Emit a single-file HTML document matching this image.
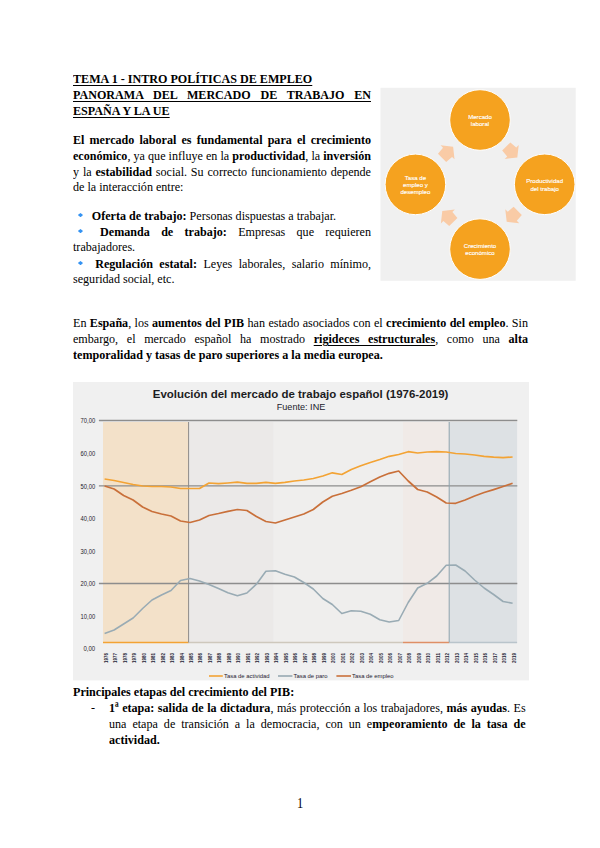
<!DOCTYPE html>
<html lang="es">
<head>
<meta charset="utf-8">
<title>Tema 1 - Intro Políticas de Empleo</title>
<style>
html,body{margin:0;padding:0;background:#fff;}
body{width:600px;height:848px;position:relative;overflow:hidden;font-family:"Liberation Serif",serif;color:#000;}
.l{position:absolute;left:72.5px;font-size:13.5px;line-height:16px;white-space:nowrap;transform:scaleX(0.896);transform-origin:0 0;}
.j{text-align:justify;text-align-last:justify;white-space:nowrap;}
b{font-weight:bold;}
u{text-decoration:underline;text-decoration-thickness:1px;text-underline-offset:2px;}
.dia{display:inline-block;width:6.03px;height:4.4px;background:#3593f2;clip-path:polygon(50% 0,100% 50%,50% 100%,0 50%);margin-left:5.36px;margin-right:6.25px;vertical-align:2.2px;}
.dash{position:absolute;left:90.5px;}
.sans{font-family:"Liberation Sans",sans-serif;}
</style>
</head>
<body>
<!-- Heading -->
<div class="l" style="top:71.4px;width:332.59px;"><b><u>TEMA 1 - INTRO POLÍTICAS DE EMPLEO</u></b></div>
<div class="l j" style="top:87.4px;width:332.59px;"><b><u>PANORAMA DEL MERCADO DE TRABAJO EN</u></b></div>
<div class="l" style="top:103.4px;width:332.59px;"><b><u>ESPAÑA Y LA UE</u></b></div>

<!-- Paragraph 1 -->
<div class="l j" style="top:131.5px;width:332.59px;"><b>El mercado laboral es fundamental para el crecimiento</b></div>
<div class="l j" style="top:147.5px;width:332.59px;"><b>económico</b>, ya que influye en la <b>productividad</b>, la <b>inversión</b></div>
<div class="l j" style="top:163.5px;width:332.59px;">y la <b>estabilidad</b> social. Su correcto funcionamiento depende</div>
<div class="l" style="top:178.5px;">de la interacción entre:</div>

<!-- Bullets -->
<div class="l" style="top:207.5px;"><span class="dia"></span> <b>Oferta de trabajo:</b> Personas dispuestas a trabajar.</div>
<div class="l j" style="top:223.5px;width:332.59px;"><span class="dia"></span> <b>Demanda de trabajo:</b> Empresas que requieren</div>
<div class="l" style="top:238.5px;">trabajadores.</div>
<div class="l j" style="top:255.5px;width:332.59px;"><span class="dia"></span> <b>Regulación estatal:</b> Leyes laborales, salario mínimo,</div>
<div class="l" style="top:270.5px;">seguridad social, etc.</div>

<!-- Cycle diagram -->
<svg style="position:absolute;left:0;top:0" width="600" height="848" viewBox="0 0 600 848">
  <rect x="380.5" y="87.8" width="195.2" height="193" fill="#f0f0f0"/>
  <g fill="#f9cba6">
    <polygon transform="translate(511.8,152) rotate(45)" points="-7.8,-5.8 -0.1,-6.4 -0.1,-9.9 7.8,0 -0.1,9.9 -0.1,6.4 -7.8,5.8"/>
    <polygon transform="translate(512.2,216.3) rotate(135)" points="-7.8,-5.8 -0.1,-6.4 -0.1,-9.9 7.8,0 -0.1,9.9 -0.1,6.4 -7.8,5.8"/>
    <polygon transform="translate(447.8,216.5) rotate(225)" points="-7.8,-5.8 -0.1,-6.4 -0.1,-9.9 7.8,0 -0.1,9.9 -0.1,6.4 -7.8,5.8"/>
    <polygon transform="translate(447.6,152.3) rotate(315)" points="-7.8,-5.8 -0.1,-6.4 -0.1,-9.9 7.8,0 -0.1,9.9 -0.1,6.4 -7.8,5.8"/>
  </g>
  <g fill="#f5a21f" stroke="#ffffff" stroke-width="1">
    <circle cx="480" cy="120" r="30.3"/>
    <circle cx="544.7" cy="184.3" r="30.3"/>
    <circle cx="480" cy="249.1" r="30.3"/>
    <circle cx="415.4" cy="184.4" r="30.3"/>
  </g>
  <g font-family="Liberation Sans" font-size="6.1" fill="#ffffff" stroke="#ffffff" stroke-width="0.14" text-anchor="middle">
    <text x="480" y="118.7">Mercado</text>
    <text x="480" y="126">laboral</text>
    <text x="544.7" y="183">Productividad</text>
    <text x="544.7" y="190.6">del trabajo</text>
    <text x="415.4" y="179.8">Tasa de</text>
    <text x="415.4" y="187.1">empleo y</text>
    <text x="415.4" y="194.2">desempleo</text>
    <text x="480" y="248">Crecimiento</text>
    <text x="480" y="255.4">económico</text>
  </g>
</svg>

<!-- Paragraph 2 -->
<div class="l j" style="top:315px;width:507.81px;">En <b>España</b>, los <b>aumentos del PIB</b> han estado asociados con el <b>crecimiento del empleo</b>. Sin</div>
<div class="l j" style="top:331px;width:507.81px;">embargo, el mercado español ha mostrado <b><u>rigideces estructurales</u></b>, como una <b>alta</b></div>
<div class="l" style="top:347px;"><b>temporalidad y tasas de paro superiores a la media europea.</b></div>

<!-- Chart -->
<svg style="position:absolute;left:0;top:0" width="600" height="848" viewBox="0 0 600 848">
  <rect x="73" y="382" width="456" height="298.4" fill="#f0f0f0"/>
  <rect x="103" y="422" width="85.6" height="220.5" fill="#f3e1c9"/>
  <rect x="188.6" y="422" width="85.1" height="220.5" fill="#ebe9e8"/>
  <rect x="273.7" y="422" width="129.3" height="220.5" fill="#efeeed"/>
  <rect x="403" y="422" width="46.2" height="220.5" fill="#f0eae7"/>
  <rect x="449.2" y="422" width="67.9" height="220.5" fill="#dde1e4"/>
  <g stroke-width="1.5">
    <line x1="103" y1="642.6" x2="188.6" y2="642.6" stroke="#f3a334"/>
    <line x1="188.6" y1="642.6" x2="403" y2="642.6" stroke="#cec8bd"/>
    <line x1="403" y1="642.6" x2="449.2" y2="642.6" stroke="#df8f66"/>
    <line x1="449.2" y1="642.6" x2="517.1" y2="642.6" stroke="#b9c4cb"/>
  </g>
  <g stroke="#8d8d8d" stroke-width="1.3">
    <line x1="98.9" y1="420.5" x2="517.3" y2="420.5"/>
    <line x1="98.9" y1="485.8" x2="517.3" y2="485.8"/>
    <line x1="98.9" y1="583.5" x2="517.3" y2="583.5"/>
  </g>
  <line x1="188.6" y1="422" x2="188.6" y2="642.5" stroke="#8e8b88" stroke-width="1"/>
  <line x1="449.2" y1="422" x2="449.2" y2="642.5" stroke="#8fa2ad" stroke-width="1"/>
  <polyline points="104.6,633.5 114.1,630 123.6,624 133.1,618 142.6,608.5 152.0,600 161.5,595 171.0,590.5 180.5,580.5 190.0,578.5 199.5,581 209.0,584.5 218.5,588.5 227.9,592.8 237.4,595.8 246.9,593 256.4,584.2 265.9,571.2 275.4,570.8 284.9,574.2 294.4,577 303.8,582.5 313.3,589 322.8,598.5 332.3,604.5 341.8,613.5 351.3,610.8 360.8,611.3 370.3,614.3 379.8,619.7 389.2,622 398.7,620.5 408.2,602.5 417.7,588 427.2,583.3 436.7,576 446.2,565.3 455.7,565 465.1,571 474.6,580 484.1,588 493.6,594.5 503.1,601.5 512.6,603.3" fill="none" stroke="#99abb4" stroke-width="1.6" stroke-linejoin="round"/>
<polyline points="104.6,486 114.1,489 123.6,495.5 133.1,500 142.6,507 152.0,511.5 161.5,514 171.0,516 180.5,521 190.0,522.5 199.5,520 209.0,515.5 218.5,513.5 227.9,511.3 237.4,509.5 246.9,510.5 256.4,516.5 265.9,521.5 275.4,523 284.9,520 294.4,517 303.8,514 313.3,509.5 322.8,502 332.3,496.3 341.8,493.5 351.3,490.3 360.8,486.7 370.3,481.7 379.8,477 389.2,473.3 398.7,471 408.2,481 417.7,489.5 427.2,492 436.7,497 446.2,503 455.7,503.3 465.1,500 474.6,496 484.1,492.5 493.6,489.6 503.1,486.5 512.6,483.2" fill="none" stroke="#c9703a" stroke-width="1.7" stroke-linejoin="round"/>
<polyline points="104.6,479 114.1,480.5 123.6,482.5 133.1,484.5 142.6,486 152.0,486.5 161.5,486.5 171.0,487 180.5,488.5 190.0,488.5 199.5,488.5 209.0,483 218.5,483.7 227.9,483 237.4,482.2 246.9,483.3 256.4,483.3 265.9,482.3 275.4,483.3 284.9,482.3 294.4,481 303.8,480 313.3,478.5 322.8,476 332.3,472.8 341.8,474.5 351.3,469.5 360.8,465.8 370.3,462.5 379.8,459.5 389.2,456.3 398.7,454.5 408.2,451.7 417.7,453 427.2,452 436.7,451.7 446.2,452 455.7,453.5 465.1,454 474.6,455 484.1,456.3 493.6,457.2 503.1,457.7 512.6,457" fill="none" stroke="#f3a334" stroke-width="1.7" stroke-linejoin="round"/>
<g font-family="Liberation Sans" font-size="5.2" font-weight="bold" fill="#1e2233"><text transform="translate(107.5,663) rotate(-90)" textLength="10" lengthAdjust="spacingAndGlyphs">1976</text><text transform="translate(117.0,663) rotate(-90)" textLength="10" lengthAdjust="spacingAndGlyphs">1977</text><text transform="translate(126.5,663) rotate(-90)" textLength="10" lengthAdjust="spacingAndGlyphs">1978</text><text transform="translate(136.0,663) rotate(-90)" textLength="10" lengthAdjust="spacingAndGlyphs">1979</text><text transform="translate(145.5,663) rotate(-90)" textLength="10" lengthAdjust="spacingAndGlyphs">1980</text><text transform="translate(155.0,663) rotate(-90)" textLength="10" lengthAdjust="spacingAndGlyphs">1981</text><text transform="translate(164.5,663) rotate(-90)" textLength="10" lengthAdjust="spacingAndGlyphs">1982</text><text transform="translate(174.0,663) rotate(-90)" textLength="10" lengthAdjust="spacingAndGlyphs">1983</text><text transform="translate(183.5,663) rotate(-90)" textLength="10" lengthAdjust="spacingAndGlyphs">1984</text><text transform="translate(192.9,663) rotate(-90)" textLength="10" lengthAdjust="spacingAndGlyphs">1985</text><text transform="translate(202.4,663) rotate(-90)" textLength="10" lengthAdjust="spacingAndGlyphs">1986</text><text transform="translate(211.9,663) rotate(-90)" textLength="10" lengthAdjust="spacingAndGlyphs">1987</text><text transform="translate(221.4,663) rotate(-90)" textLength="10" lengthAdjust="spacingAndGlyphs">1988</text><text transform="translate(230.9,663) rotate(-90)" textLength="10" lengthAdjust="spacingAndGlyphs">1989</text><text transform="translate(240.4,663) rotate(-90)" textLength="10" lengthAdjust="spacingAndGlyphs">1990</text><text transform="translate(249.9,663) rotate(-90)" textLength="10" lengthAdjust="spacingAndGlyphs">1991</text><text transform="translate(259.4,663) rotate(-90)" textLength="10" lengthAdjust="spacingAndGlyphs">1992</text><text transform="translate(268.8,663) rotate(-90)" textLength="10" lengthAdjust="spacingAndGlyphs">1993</text><text transform="translate(278.3,663) rotate(-90)" textLength="10" lengthAdjust="spacingAndGlyphs">1994</text><text transform="translate(287.8,663) rotate(-90)" textLength="10" lengthAdjust="spacingAndGlyphs">1995</text><text transform="translate(297.3,663) rotate(-90)" textLength="10" lengthAdjust="spacingAndGlyphs">1996</text><text transform="translate(306.8,663) rotate(-90)" textLength="10" lengthAdjust="spacingAndGlyphs">1997</text><text transform="translate(316.3,663) rotate(-90)" textLength="10" lengthAdjust="spacingAndGlyphs">1998</text><text transform="translate(325.8,663) rotate(-90)" textLength="10" lengthAdjust="spacingAndGlyphs">1999</text><text transform="translate(335.3,663) rotate(-90)" textLength="10" lengthAdjust="spacingAndGlyphs">2000</text><text transform="translate(344.7,663) rotate(-90)" textLength="10" lengthAdjust="spacingAndGlyphs">2001</text><text transform="translate(354.2,663) rotate(-90)" textLength="10" lengthAdjust="spacingAndGlyphs">2002</text><text transform="translate(363.7,663) rotate(-90)" textLength="10" lengthAdjust="spacingAndGlyphs">2003</text><text transform="translate(373.2,663) rotate(-90)" textLength="10" lengthAdjust="spacingAndGlyphs">2004</text><text transform="translate(382.7,663) rotate(-90)" textLength="10" lengthAdjust="spacingAndGlyphs">2005</text><text transform="translate(392.2,663) rotate(-90)" textLength="10" lengthAdjust="spacingAndGlyphs">2006</text><text transform="translate(401.7,663) rotate(-90)" textLength="10" lengthAdjust="spacingAndGlyphs">2007</text><text transform="translate(411.2,663) rotate(-90)" textLength="10" lengthAdjust="spacingAndGlyphs">2008</text><text transform="translate(420.7,663) rotate(-90)" textLength="10" lengthAdjust="spacingAndGlyphs">2009</text><text transform="translate(430.1,663) rotate(-90)" textLength="10" lengthAdjust="spacingAndGlyphs">2010</text><text transform="translate(439.6,663) rotate(-90)" textLength="10" lengthAdjust="spacingAndGlyphs">2011</text><text transform="translate(449.1,663) rotate(-90)" textLength="10" lengthAdjust="spacingAndGlyphs">2012</text><text transform="translate(458.6,663) rotate(-90)" textLength="10" lengthAdjust="spacingAndGlyphs">2013</text><text transform="translate(468.1,663) rotate(-90)" textLength="10" lengthAdjust="spacingAndGlyphs">2014</text><text transform="translate(477.6,663) rotate(-90)" textLength="10" lengthAdjust="spacingAndGlyphs">2015</text><text transform="translate(487.1,663) rotate(-90)" textLength="10" lengthAdjust="spacingAndGlyphs">2016</text><text transform="translate(496.6,663) rotate(-90)" textLength="10" lengthAdjust="spacingAndGlyphs">2017</text><text transform="translate(506.0,663) rotate(-90)" textLength="10" lengthAdjust="spacingAndGlyphs">2018</text><text transform="translate(515.5,663) rotate(-90)" textLength="10" lengthAdjust="spacingAndGlyphs">2019</text></g>
  <g font-family="Liberation Sans" font-size="7" fill="#26222c" text-anchor="end" lengthAdjust="spacingAndGlyphs">
    <text x="95.2" y="422.8" textLength="14.6" lengthAdjust="spacingAndGlyphs">70,00</text>
    <text x="95.2" y="455.9" textLength="14.6" lengthAdjust="spacingAndGlyphs">60,00</text>
    <text x="95.2" y="488.5" textLength="14.6" lengthAdjust="spacingAndGlyphs">50,00</text>
    <text x="95.2" y="521.2" textLength="14.6" lengthAdjust="spacingAndGlyphs">40,00</text>
    <text x="95.2" y="553.7" textLength="14.6" lengthAdjust="spacingAndGlyphs">30,00</text>
    <text x="95.2" y="585.9" textLength="14.6" lengthAdjust="spacingAndGlyphs">20,00</text>
    <text x="95.2" y="618.8" textLength="14.6" lengthAdjust="spacingAndGlyphs">10,00</text>
    <text x="95.2" y="651.4" textLength="11.7" lengthAdjust="spacingAndGlyphs">0,00</text>
  </g>
  <text x="300.6" y="397.5" font-family="Liberation Sans" font-weight="bold" font-size="10.6" fill="#1c1c22" text-anchor="middle" textLength="295.7" lengthAdjust="spacingAndGlyphs">Evolución del mercado de trabajo español (1976-2019)</text>
  <text x="301" y="410" font-family="Liberation Sans" font-size="9" fill="#22222c" text-anchor="middle" textLength="48.6" lengthAdjust="spacingAndGlyphs">Fuente: INE</text>
  <g stroke-width="1.6">
    <line x1="209" y1="676" x2="222.8" y2="676" stroke="#f3a334"/>
    <line x1="278" y1="676" x2="292.4" y2="676" stroke="#97a9b2"/>
    <line x1="336.4" y1="676" x2="351" y2="676" stroke="#c9703a"/>
  </g>
  <g font-family="Liberation Sans" font-size="5.9" fill="#1e2030">
    <text x="224" y="678">Tasa de actividad</text>
    <text x="293.5" y="678">Tasa de paro</text>
    <text x="352" y="678">Tasa de empleo</text>
  </g>
</svg>

<!-- Principales etapas -->
<div class="l" style="top:684.4px;"><b>Principales etapas del crecimiento del PIB:</b></div>
<div class="l" style="top:700.4px;left:90.5px;">-</div>
<div class="l j" style="top:700.4px;left:109.4px;width:464.96px;"><b>1ª etapa: salida de la dictadura</b>, más protección a los trabajadores, <b>más ayudas</b>. Es</div>
<div class="l j" style="top:716.4px;left:109.4px;width:464.96px;">una etapa de transición a la democracia, con un e<b>mpeoramiento de la tasa de</b></div>
<div class="l" style="top:732.4px;left:109.4px;"><b>actividad.</b></div>

<!-- Page number -->
<div class="l" style="top:796px;left:296.5px;font-size:13.8px;">1</div>
</body>
</html>
